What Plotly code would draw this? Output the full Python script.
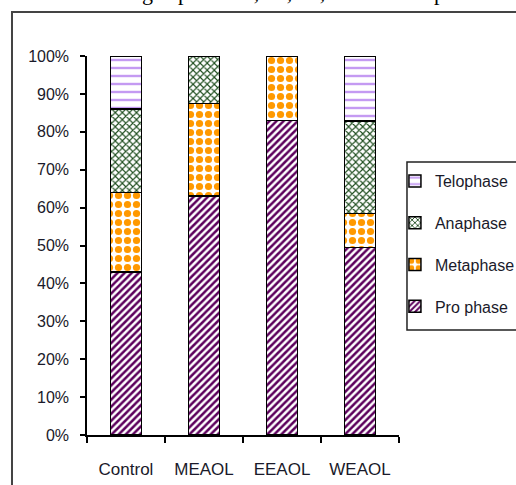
import plotly.graph_objects as go

# Mitotic phase distribution per treatment (fraction of dividing cells)
groups = ["Control", "MEAOL", "EEAOL", "WEAOL"]
prophase = [0.43, 0.63, 0.83, 0.495]
metaphase = [0.21, 0.245, 0.17, 0.09]
anaphase = [0.22, 0.125, 0.0, 0.243]
telophase = [0.14, 0.0, 0.0, 0.172]

y_ticks = [0, 0.1, 0.2, 0.3, 0.4, 0.5, 0.6, 0.7, 0.8, 0.9, 1.0]

# (legend name, values, fill pattern, legend rank)
series = [
    ("Pro phase", prophase, dict(shape="/", fgcolor="#5c005c", size=5, solidity=0.5), 4),
    ("Metaphase", metaphase, dict(shape=".", fgcolor="#ff9900", size=9, solidity=0.5), 3),
    ("Anaphase", anaphase, dict(shape="x", fgcolor="#1e4d1e", size=5, solidity=0.4), 2),
    ("Telophase", telophase, dict(shape="-", fgcolor="#c49af2", size=8, solidity=0.3), 1),
]

font_family = "Liberation Sans, Arial, sans-serif"

fig = go.Figure()
for name, vals, pat, rank in series:
    fig.add_trace(go.Bar(
        x=groups, y=vals, name=name, legendgroup=name, legendrank=rank,
        marker=dict(color="white",
                    pattern=dict(pat, bgcolor="white", fgopacity=1, fillmode="replace"),
                    line=dict(color="black", width=1.5)),
    ))

# outer frame of the chart object and the legend box
fig.add_shape(type="rect", xref="paper", yref="paper",
              x0=-0.2404, x1=1.6, y0=-0.3, y1=1.116,
              line=dict(color="#444444", width=2), layer="below")
fig.add_shape(type="rect", xref="paper", yref="paper",
              x0=1.0256, x1=1.45, y0=0.277, y1=0.7203,
              line=dict(color="#222222", width=1.5), layer="below")

# cut-off line of running text above the chart
fig.add_annotation(xref="paper", yref="paper", x=0.55, y=1.13,
                   xanchor="center", yanchor="bottom", showarrow=False,
                   text="ic following cap were 0, 30, 30, and 0 % respect",
                   font=dict(family="Liberation Serif, Times New Roman, serif", size=22, color="black"))

fig.update_layout(
    width=516, height=485,
    margin=dict(l=87, r=117, t=56, b=50, autoexpand=False),
    barmode="stack", bargap=0.6,
    plot_bgcolor="white", paper_bgcolor="white",
    font=dict(family=font_family, size=16, color="#1a1a2a"),
    showlegend=True,
    legend=dict(x=0.987, y=0.715, xanchor="left", yanchor="top",
                traceorder="grouped", tracegroupgap=18,
                font=dict(family=font_family, size=16, color="#1a1a2a"),
                bgcolor="rgba(0,0,0,0)", borderwidth=0, itemwidth=30),
)
fig.update_xaxes(showline=True, linecolor="black", linewidth=1.5,
                 ticks="outside", ticklen=6, tickcolor="black", tickwidth=1.5,
                 tickson="boundaries", ticklabelstandoff=18, showgrid=False,
                 tickfont=dict(size=17))
fig.update_yaxes(range=[0, 1], tickvals=y_ticks, tickformat=".0%",
                 showline=True, linecolor="black", linewidth=1.5,
                 ticks="outside", ticklen=5, tickcolor="black", tickwidth=1.5,
                 ticklabelstandoff=8, showgrid=False, zeroline=False)

fig.write_html("out.html")
